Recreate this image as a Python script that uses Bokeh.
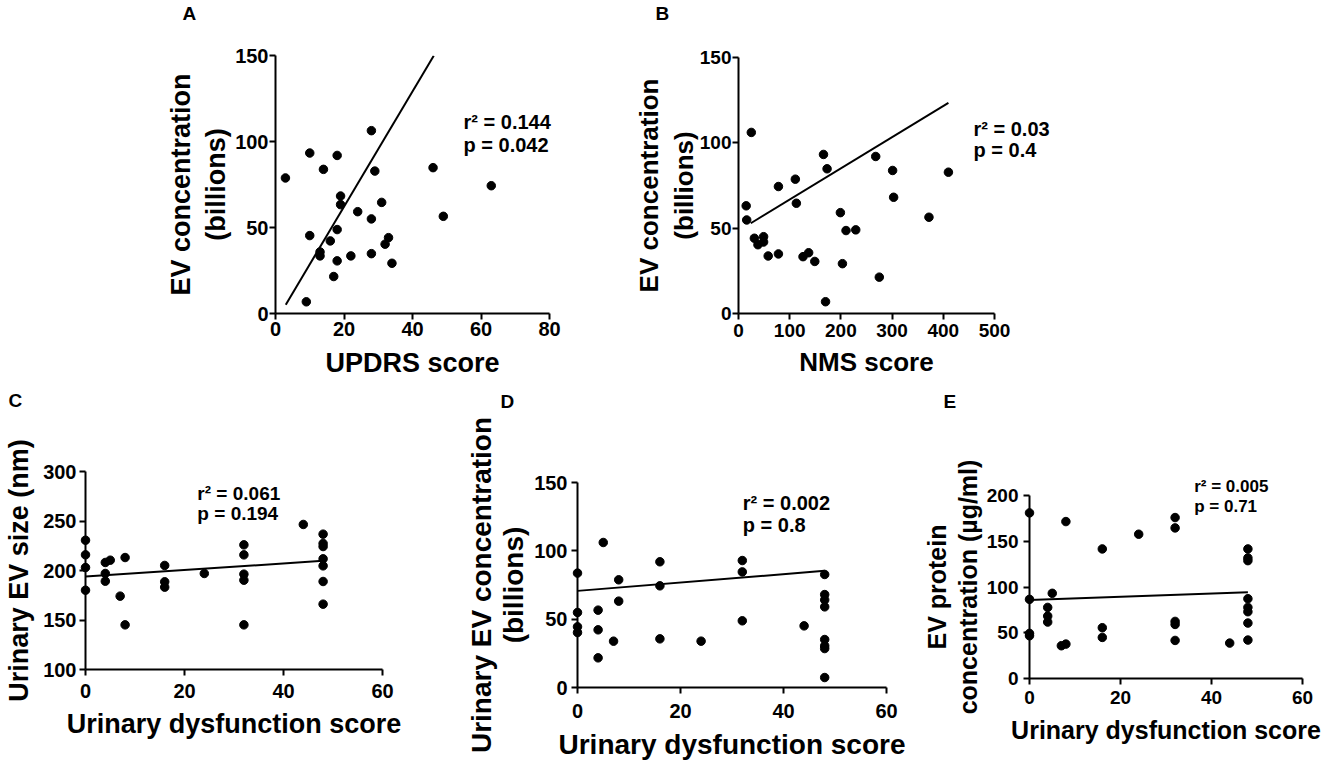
from bokeh.plotting import figure
from bokeh.models import Range1d, FixedTicker
from bokeh.layouts import row, column
from bokeh.core.properties import value
from bokeh.embed import file_html
from bokeh.resources import INLINE

FONT = "Liberation Sans"

# ---------------- data ----------------
A_x = [2.9, 9, 10, 10, 14, 13, 13, 16, 17, 18, 18, 18, 19, 19, 22, 24, 28, 28, 28, 29, 31, 32, 33, 34, 46, 49, 63]
A_y = [78.8, 6.8, 93.3, 45.3, 83.8, 35.8, 33.5, 42.2, 21.5, 91.9, 48.8, 30.6, 68.3, 63.3, 33.5, 59.2,
       106.3, 55.0, 34.8, 82.8, 64.6, 40.3, 44.1, 29.2, 84.8, 56.5, 74.3]

B_x = [15, 16, 25, 31, 38, 49, 49, 58, 78, 78, 111, 113, 126, 137, 149, 166, 170, 173, 199, 203, 210, 229,
       268, 275, 301, 303, 372, 410]
B_y = [63.1, 54.8, 106.1, 44.1, 40.3, 45.0, 41.9, 33.7, 74.4, 34.9, 78.7, 64.6, 33.3, 35.6, 30.5, 93.2, 6.9,
       84.8, 59.1, 29.2, 48.6, 49.0, 92.0, 21.3, 83.8, 68.1, 56.4, 82.8]

C_x = [0, 0, 0, 0, 4, 4, 4, 5, 7, 8, 8, 16, 16, 16, 24, 32, 32, 32, 32, 32, 44, 48, 48, 48, 48, 48, 48, 48]
C_y = [230.6, 215.8, 203.0, 180.1, 208.1, 197.0, 189.2, 210.4, 174.1, 213.1, 145.1, 205.1, 188.6, 183.2,
       197.0, 225.9, 215.8, 196.3, 190.2, 145.1, 246.5, 236.7, 227.3, 224.2, 211.8, 204.7, 188.9, 166.0]

D_x = [0, 0, 0, 0, 4, 4, 4, 5, 7, 8, 8, 16, 16, 16, 24, 32, 32, 32, 44, 48, 48, 48, 48, 48, 48, 48, 48]
D_y = [83.7, 54.9, 44.4, 40.2, 56.6, 42.2, 21.7, 106.1, 33.9, 78.8, 63.2, 92.0, 74.4, 35.6, 33.9, 92.9,
       84.6, 48.8, 45.1, 82.7, 68.0, 64.1, 59.0, 35.1, 30.5, 28.5, 7.3]

E_x = [0, 0, 0, 0, 4, 4, 4, 5, 7, 8, 8, 16, 16, 16, 24, 32, 32, 32, 32, 32, 44, 48, 48, 48, 48, 48, 48, 48, 48]
E_y = [181.0, 86.5, 49.3, 46.7, 77.7, 68.2, 61.7, 93.1, 35.8, 37.6, 171.5, 141.6, 55.5, 44.9, 157.7, 175.9,
       164.6, 62.4, 59.1, 41.6, 38.7, 141.6, 131.8, 128.8, 87.2, 77.7, 73.0, 60.6, 42.0]

# linear fits: slope, intercept, x span of the drawn line
fit_slope = {"A": 3.35, "B": 0.1827, "C": 0.331, "D": 0.306, "E": 0.175}
fit_intercept = {"A": -4.9, "B": 48.5, "C": 193.9, "D": 70.7, "E": 85.8}
fit_span = {"A": [3, 46.2], "B": [24, 410], "C": [0, 48], "D": [0, 48], "E": [0, 48]}

stats_r2 = {"A": "r\u00b2 = 0.144", "B": "r\u00b2 = 0.03", "C": "r\u00b2 = 0.061", "D": "r\u00b2 = 0.002", "E": "r\u00b2 = 0.005"}
stats_p = {"A": "p = 0.042", "B": "p = 0.4", "C": "p = 0.194", "D": "p = 0.8", "E": "p = 0.71"}

x_ticks = {"A": [0, 20, 40, 60, 80], "B": [0, 100, 200, 300, 400, 500], "C": [0, 20, 40, 60],
           "D": [0, 20, 40, 60], "E": [0, 20, 40, 60]}
y_ticks = {"A": [0, 50, 100, 150], "B": [0, 50, 100, 150], "C": [100, 150, 200, 250, 300],
           "D": [0, 50, 100, 150], "E": [0, 50, 100, 150, 200]}

x_labels = {"A": "UPDRS score", "B": "NMS score", "C": "Urinary dysfunction score",
            "D": "Urinary dysfunction score", "E": "Urinary dysfunction score"}
y_labels = {"A": "EV concentration\n(billions)", "B": "EV concentration\n(billions)",
            "C": "Urinary EV size (nm)", "D": "Urinary EV concentration\n(billions)",
            "E": "EV protein\nconcentration (\u00b5g/ml)"}

x_range = {"A": (0, 80), "B": (0, 500), "C": (0, 60), "D": (0, 60), "E": (0, 60)}
y_range = {"A": (0, 150), "B": (0, 150), "C": (100, 300), "D": (0, 150), "E": (0, 200)}
data = {"A": (A_x, A_y), "B": (B_x, B_y), "C": (C_x, C_y), "D": (D_x, D_y), "E": (E_x, E_y)}

# ---------------- layout / style ----------------
# w,h: figure size; l,r,t,b: borders (frame placement); font sizes; standoffs;
# ann: stats text middle position (data units); let: panel letter offset from frame top-left (px)
layout_cfg = {
    "A": dict(w=600, h=385, l=275, r=51, t=55, b=72, tick=20, lab=27, xlab=27, ann=20, lh=1.16,
              xs=2, ys=1, xls=9, yls=1, ann_x=54.9, ann_y=(111.6, 97.7), let=(-93, 41.6)),
    "B": dict(w=725, h=385, l=138, r=331, t=57, b=72, tick=19, lab=26, xlab=26, ann=20, lh=1.17,
              xs=4, ys=1, xls=7, yls=-2, ann_x=459, ann_y=(107.9, 95.7), let=(-83, 43.6)),
    "C": dict(w=440, h=378, l=85, r=58, t=86, b=94, tick=20, lab=27, xlab=27, ann=19, lh=1.0,
              xs=8, ys=3, xls=8, yls=6, ann_x=22.6, ann_y=(277.5, 257.3), let=(-77, 70.6)),
    "D": dict(w=470, h=378, l=137, r=24, t=97, b=76, tick=20, lab=28, xlab=28, ann=20, lh=1.05,
              xs=10, ys=4, xls=8, yls=2, ann_x=32.1, ann_y=(134.8, 119.0), let=(-77, 80.6)),
    "E": dict(w=415, h=378, l=119, r=23, t=110, b=85, tick=19, lab=25, xlab=25, ann=17, lh=1.11,
              xs=6, ys=5, xls=9, yls=2, ann_x=36.2, ann_y=(209.9, 188.0), let=(-86, 93.6)),
}


def make_panel(key):
    cfg = layout_cfg[key]
    x0r, x1r = x_range[key]
    y0r, y1r = y_range[key]
    p = figure(width=cfg["w"], height=cfg["h"], output_backend="svg", toolbar_location=None,
               x_range=Range1d(x0r, x1r), y_range=Range1d(y0r, y1r),
               min_border_left=cfg["l"], min_border_right=cfg["r"],
               min_border_top=cfg["t"], min_border_bottom=cfg["b"])
    p.outline_line_color = None
    p.xgrid.visible = False
    p.ygrid.visible = False
    p.background_fill_color = "white"
    p.border_fill_color = "white"

    for ax, ticks, lab, ls, als, lsz in (
            (p.xaxis[0], x_ticks[key], x_labels[key], cfg["xs"], cfg["xls"], cfg["xlab"]),
            (p.yaxis[0], y_ticks[key], y_labels[key], cfg["ys"], cfg["yls"], cfg["lab"])):
        ax.ticker = FixedTicker(ticks=ticks)
        ax.axis_label = lab
        ax.axis_line_width = 2
        ax.axis_line_color = "black"
        ax.major_tick_line_width = 2
        ax.major_tick_line_color = "black"
        ax.major_tick_out = 6
        ax.major_tick_in = 0
        ax.minor_tick_line_color = None
        ax.major_label_text_font = FONT
        ax.major_label_text_font_style = "bold"
        ax.major_label_text_font_size = f"{cfg['tick']}px"
        ax.major_label_text_color = "black"
        ax.major_label_standoff = ls
        ax.axis_label_text_font = FONT
        ax.axis_label_text_font_style = "bold"
        ax.axis_label_text_font_size = f"{lsz}px"
        ax.axis_label_text_color = "black"
        ax.axis_label_standoff = als
        ax.axis_label_text_line_height = cfg["lh"]

    xs, ys = data[key]
    fx0, fx1 = fit_span[key]
    lx = [fx0, fx1]
    ly = [fit_slope[key] * v + fit_intercept[key] for v in lx]
    p.line(lx, ly, line_color="black", line_width=2)
    r = p.scatter(xs, ys, size=8.5, fill_color="black", line_color="black")
    r.level = "overlay"

    t = p.text(x=[cfg["ann_x"], cfg["ann_x"]], y=list(cfg["ann_y"]), text=[stats_r2[key], stats_p[key]],
               text_font=value(FONT), text_font_style="bold", text_font_size=f"{cfg['ann']}px",
               text_color="black", text_baseline="middle", text_align="left")
    t.level = "overlay"

    # panel letter: pixel offset from frame top-left converted through the frame's scale
    fw = cfg["w"] - cfg["l"] - cfg["r"]
    fh = cfg["h"] - cfg["t"] - cfg["b"]
    dx, dy = cfg["let"]
    lxd = x0r + dx / fw * (x1r - x0r)
    lyd = y1r + dy / fh * (y1r - y0r)
    tl = p.text(x=[lxd], y=[lyd], text=[key], text_font=value(FONT), text_font_style="bold",
                text_font_size="19px", text_color="black", text_baseline="middle", text_align="left")
    tl.level = "overlay"
    return p


panels = {k: make_panel(k) for k in "ABCDE"}
layout = column(row(column(panels["A"]), column(panels["B"])),
                row(column(panels["C"]), column(panels["D"]), column(panels["E"])))

open("out.html", "w").write(file_html(layout, INLINE))
